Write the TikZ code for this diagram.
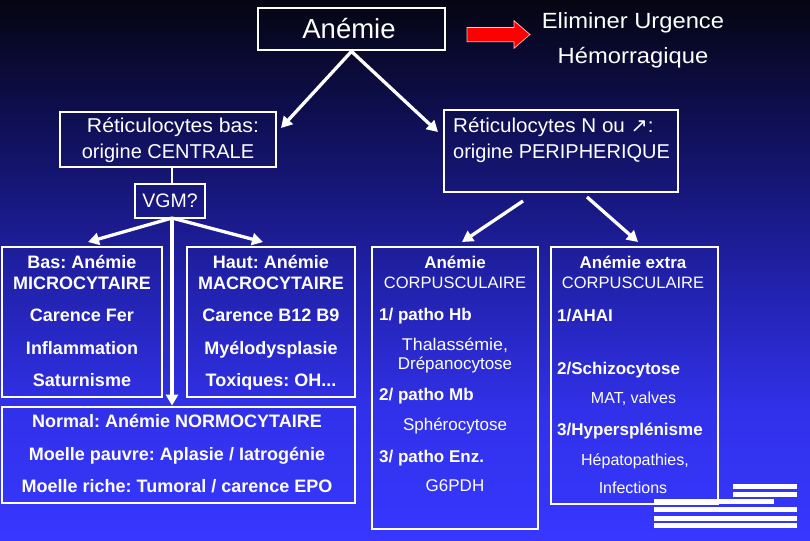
\documentclass[tikz,border=0pt]{standalone}
\usepackage{fontspec}
\setmainfont{Liberation Sans}
\newfontfamily\dvfont{DejaVu Sans}
\usetikzlibrary{arrows.meta}
\definecolor{bgA}{HTML}{050512}
\definecolor{bgB}{HTML}{10105A}
\definecolor{bgC}{HTML}{2020A6}
\definecolor{bgD}{HTML}{3131EA}
\definecolor{bgE}{HTML}{3737FF}
\frenchspacing
\begin{document}
\begin{tikzpicture}[x=1pt,y=-1pt,
  frame/.style={draw=white, line width=2.8pt, inner sep=0pt, fill=none},
  wt/.style={text=white, inner sep=0pt, anchor=base},
  bt/.style={wt, font=\fontsize{18}{21}\selectfont\bfseries},
  bts/.style={wt, font=\fontsize{17}{20}\selectfont\bfseries},
  rt/.style={wt, font=\fontsize{16}{19}\selectfont},
  rtl/.style={wt, font=\fontsize{17}{20}\selectfont},
  mt/.style={wt, font=\fontsize{20}{24}\selectfont},
  arr/.style={draw=white, line width=3.3pt, -{Triangle[length=11pt,width=12pt]}},
  link/.style={draw=white, line width=2.8pt}]
\useasboundingbox (0,0) rectangle (810,540);
% background
\shade[top color=bgA, bottom color=bgB] (0,0) rectangle (810,131);
\shade[top color=bgB, bottom color=bgC] (0,130) rectangle (810,271);
\shade[top color=bgC, bottom color=bgD] (0,270) rectangle (810,411);
\shade[top color=bgD, bottom color=bgE] (0,410) rectangle (810,540);

% boxes
\node[frame, minimum width=187pt, minimum height=42pt] (anemie) at (351.5,29) {};
\node[frame, minimum width=216pt, minimum height=55pt] (retbas) at (168,139.5) {};
\node[frame, minimum width=234pt, minimum height=82pt] (retn) at (561,151) {};
\node[frame, minimum width=70pt, minimum height=34pt] (vgm) at (170,201) {};
\node[frame, minimum width=160pt, minimum height=150pt] (bas) at (82,322) {};
\node[frame, minimum width=168pt, minimum height=150pt] (haut) at (271,322) {};
\node[frame, minimum width=353pt, minimum height=96pt] (normal) at (178.5,455) {};
\node[frame, minimum width=166pt, minimum height=282pt] (corp) at (455,388) {};
\node[frame, minimum width=167pt, minimum height=257pt] (extra) at (634.5,375.5) {};

% top texts
\node[wt, font=\fontsize{27.5}{31}\selectfont] (tanemie) at (349,39) {Anémie};
\node[wt, font=\fontsize{22}{26}\selectfont] (elim1) at (633,28.3) {\scalebox{1.08}[1]{Eliminer Urgence}};
\node[wt, font=\fontsize{22}{26}\selectfont] (elim2) at (633,64) {\scalebox{1.08}[1]{Hémorragique}};

% red arrow
\draw[fill=red, draw=white!75!red, line width=0.7pt]
  (467,27.5) -- (514,27.5) -- (514,20.7) -- (530,34.5) -- (514,48.3) -- (514,41.7) -- (467,41.7) -- cycle;

% reticulocytes
\node[mt] (rb1) at (173,133) {\scalebox{1.06}[1]{Réticulocytes bas:}};
\node[mt] (rb2) at (168,158) {origine CENTRALE};
\node[mt, anchor=base west] (rn1) at (453,133) {\scalebox{1.03}[1]{Réticulocytes N ou {\dvfont\fontsize{20}{24}\selectfont ↗}:}};
\node[mt, anchor=base west] (rn2) at (453,158) {origine PERIPHERIQUE};
\node[wt, font=\fontsize{19.5}{23}\selectfont] (tvgm) at (170,207) {VGM?};

% connectors
\coordinate (tipRB) at (281,128);
\coordinate (tipRN) at (438,132);
\draw[arr] (anemie.south) -- (tipRB);
\draw[arr] (anemie.south) -- (tipRN);
\coordinate (vtop) at (172,184);
\coordinate (vbot) at (172,218);
\draw[link] (vtop) -- (vtop |- retbas.south);
\coordinate (tipBas) at (88,242);
\coordinate (tipHaut) at (263,242);
\draw[arr] (vbot) -- (tipBas);
\draw[arr] (vbot) -- (tipHaut);
\draw[arr] (vbot) -- (vbot |- normal.north);
\coordinate (srcL) at (523,201);
\coordinate (srcR) at (587,197);
\coordinate (tipCorp) at (462,242);
\coordinate (tipExtra) at (638,242);
\draw[arr] (srcL) -- (tipCorp);
\draw[arr] (srcR) -- (tipExtra);

% Bas box
\node[bt] (b1) at (82,268) {Bas: Anémie};
\node[bt] (b2) at (82,289.5) {MICROCYTAIRE};
\node[bt] (b3) at (82,321.5) {Carence Fer};
\node[bt] (b4) at (82,354.5) {Inflammation};
\node[bt] (b5) at (82,386.5) {Saturnisme};
% Haut box
\node[bt] (h1) at (271,268) {Haut: Anémie};
\node[bt] (h2) at (271,289.5) {MACROCYTAIRE};
\node[bt] (h3) at (271,321.5) {Carence B12 B9};
\node[bt] (h4) at (271,354.5) {Myélodysplasie};
\node[bt] (h5) at (271,386.5) {Toxiques: OH...};
% Normal box
\node[bt] (n1) at (177,427) {Normal: Anémie NORMOCYTAIRE};
\node[bt] (n2) at (177,460) {Moelle pauvre: Aplasie / Iatrogénie};
\node[bt] (n3) at (177,492) {Moelle riche: Tumoral / carence EPO};

% Corpusculaire box
\node[bts] (c1) at (455,268) {Anémie};
\node[wt, font=\fontsize{16.5}{19}\selectfont] (c2) at (455,288) {CORPUSCULAIRE};
\node[bts, anchor=base west] (c3) at (379,320.5) {1/ patho Hb};
\node[rtl] (c4) at (455,350) {\scalebox{1.05}[1]{Thalassémie,}};
\node[rtl] (c5) at (455,369.5) {Drépanocytose};
\node[bts, anchor=base west] (c6) at (379,400.5) {2/ patho Mb};
\node[rtl] (c7) at (455,430) {Sphérocytose};
\node[bts, anchor=base west] (c8) at (379,462.5) {3/ patho Enz.};
\node[rtl] (c9) at (455,491.5) {G6PDH};

% Extra box
\node[bts] (e1) at (633,268) {Anémie extra};
\node[wt, font=\fontsize{16.5}{19}\selectfont] (e2) at (633,288) {CORPUSCULAIRE};
\node[bts, anchor=base west] (e3) at (557,321) {1/AHAI};
\node[bts, anchor=base west] (e4) at (557,374) {2/Schizocytose};
\node[rt] (e5) at (633.5,403.5) {MAT, valves};
\node[bts, anchor=base west] (e6) at (557,435) {3/Hypersplénisme};
\node[rt] (e7) at (635,465.5) {Hépatopathies,};
\node[rt] (e8) at (633,493) {Infections};

% decorative bars
\fill[white] (733,484) rectangle (797,489);
\fill[white] (733,492) rectangle (797,497);
\fill[white] (654,499) rectangle (774,504);
\fill[white] (654,507) rectangle (797,512);
\fill[white] (654,516) rectangle (797,521);
\fill[white] (654,523) rectangle (797,528);
\end{tikzpicture}
\end{document}
